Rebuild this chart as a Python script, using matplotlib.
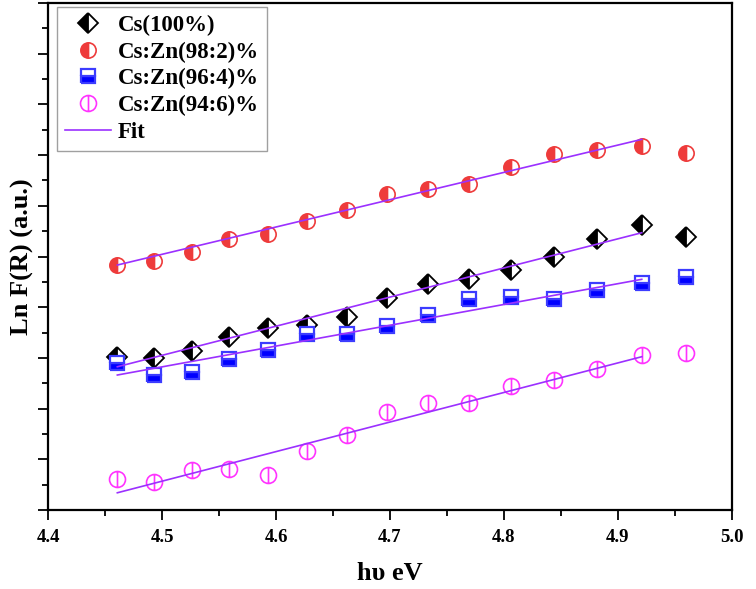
import numpy as np
import matplotlib
matplotlib.use("Agg")
import matplotlib.pyplot as plt
from matplotlib.path import Path
from matplotlib.ticker import MultipleLocator, NullFormatter

plt.rcParams['font.family'] = ['Liberation Serif', 'DejaVu Serif']
plt.rcParams['font.weight'] = 'bold'

# photon energy (eV)
hv = [4.460, 4.493, 4.526, 4.559, 4.593, 4.627, 4.662, 4.697,
      4.733, 4.769, 4.806, 4.844, 4.882, 4.921, 4.960]

cs100 = [3.02, 3.00, 3.14, 3.41, 3.59, 3.65, 3.81, 4.18,
         4.46, 4.56, 4.73, 4.99, 5.35, 5.62, 5.39]
zn2 = [4.83, 4.91, 5.09, 5.35, 5.44, 5.70, 5.92, 6.23,
       6.33, 6.43, 6.77, 7.02, 7.10, 7.18, 7.04]
zn4 = [2.90, 2.66, 2.72, 2.98, 3.16, 3.47, 3.47, 3.63,
       3.85, 4.16, 4.20, 4.16, 4.34, 4.48, 4.60]
zn6 = [0.61, 0.55, 0.80, 0.81, 0.69, 1.17, 1.49, 1.94,
       2.12, 2.12, 2.45, 2.56, 2.78, 3.05, 3.10]

# linear fit end points
fit_x = [4.4606, 4.921]
fit_cs100 = [2.826, 5.469]
fit_zn2 = [4.832, 7.310]
fit_zn4 = [2.663, 4.550]
fit_zn6 = [0.341, 3.024]

labels = ['Cs(100%)', 'Cs:Zn(98:2)%', 'Cs:Zn(96:4)%', 'Cs:Zn(94:6)%']

# circle with a vertical bar
circ_bar = Path.make_compound_path(
    Path.unit_circle(),
    Path([[0, -1], [0, 1]], [Path.MOVETO, Path.LINETO]))

fig = plt.figure(figsize=(7.56, 5.89), dpi=100)
ax = fig.add_axes([0.0639, 0.134, 0.904, 0.861])

ax.plot(hv, cs100, ls='none', marker='D', ms=10.5, fillstyle='left',
        mfc='black', mfcalt='white', mec='black', mew=1.3, label=labels[0])
ax.plot(hv, zn2, ls='none', marker='o', ms=11, fillstyle='left',
        mfc='#ee3b3b', mfcalt='white', mec='#ee3b3b', mew=1.2, label=labels[1])
ax.plot(hv, zn4, ls='none', marker='s', ms=10, fillstyle='bottom',
        mfc='#0000ff', mfcalt='white', mec='#3c3cff', mew=1.6, label=labels[2])
ax.plot(hv, zn6, ls='none', marker=circ_bar, ms=11.5, mfc='none',
        mec='#ff33ff', mew=1.2, label=labels[3])

fit_col = '#9b30ff'
ax.plot(fit_x, fit_cs100, color=fit_col, lw=1.2, zorder=3, label='Fit')
ax.plot(fit_x, fit_zn2, color=fit_col, lw=1.2, zorder=3)
ax.plot(fit_x, fit_zn4, color=fit_col, lw=1.2, zorder=3)
ax.plot(fit_x, fit_zn6, color=fit_col, lw=1.2, zorder=3)

ax.set_xlim(4.4, 5.0)
ax.set_ylim(0, 10)
ax.xaxis.set_major_locator(MultipleLocator(0.1))
ax.xaxis.set_minor_locator(MultipleLocator(0.05))
ax.yaxis.set_major_locator(MultipleLocator(1))
ax.yaxis.set_minor_locator(MultipleLocator(0.5))
ax.yaxis.set_major_formatter(NullFormatter())

for s in ax.spines.values():
    s.set_linewidth(1.6)
ax.tick_params(which='major', direction='out', length=7.5, width=1.3,
               labelsize=13.5, pad=6, top=False, right=False)
ax.tick_params(which='minor', direction='out', length=4, width=1.3,
               top=False, right=False)

ax.set_xlabel('hυ eV', fontsize=19, fontweight='bold', labelpad=12)
ax.set_ylabel('Ln F(R) (a.u.)', fontsize=19, fontweight='bold', labelpad=-3)

leg = ax.legend(loc='upper left', bbox_to_anchor=(0.013, 0.992),
                borderaxespad=0, fontsize=16.5, frameon=True, fancybox=False,
                edgecolor='#888888', handlelength=2.0, handletextpad=0.3,
                labelspacing=0.24, borderpad=0.35)
leg.get_frame().set_linewidth(1.0)

fig.savefig('out.png', dpi=100)
